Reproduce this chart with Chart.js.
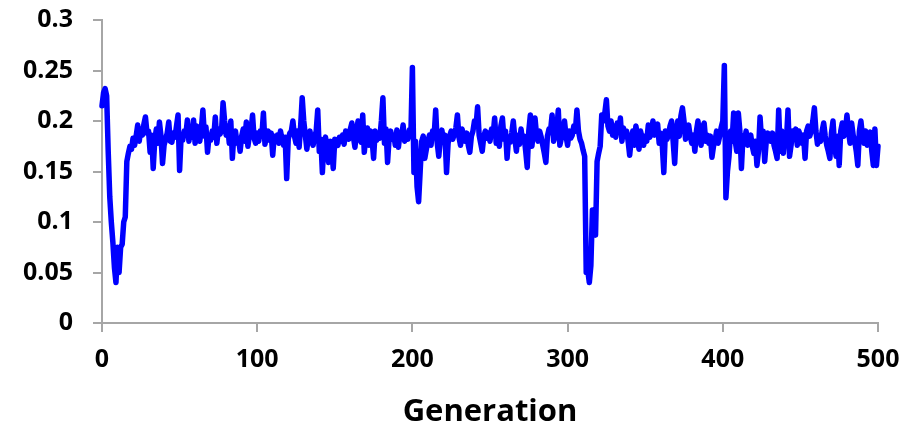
<!DOCTYPE html>
<html lang="en">
<head>
    <meta charset="UTF-8">
    <title>Generation chart</title>
    <script src="https://cdn.jsdelivr.net/npm/chart.js@4.4.1/dist/chart.umd.min.js"></script>
    <style>
        html, body { margin: 0; padding: 0; background: #fff; }
        #wrap { width: 918px; height: 428px; }
    </style>
</head>
<body>
    <div id="wrap"><canvas id="chart" width="918" height="428"></canvas></div>

    <script>
        // value per generation, 0..500
        const fitness = [
            0.215, 0.228, 0.232, 0.225, 0.17, 0.125, 0.1, 0.08, 0.055, 0.04,
            0.075, 0.05, 0.075, 0.078, 0.1, 0.105, 0.16, 0.168, 0.175, 0.172,
            0.183, 0.176, 0.185, 0.196, 0.18, 0.192, 0.186, 0.197, 0.204, 0.188,
            0.19, 0.169, 0.186, 0.153, 0.181, 0.192, 0.178, 0.199, 0.185, 0.158,
            0.176, 0.182, 0.188, 0.199, 0.18, 0.179, 0.188, 0.184, 0.195, 0.206,
            0.151, 0.185, 0.181, 0.19, 0.186, 0.201, 0.18, 0.192, 0.184, 0.201,
            0.178, 0.195, 0.187, 0.18, 0.192, 0.211, 0.185, 0.194, 0.169, 0.186,
            0.181, 0.19, 0.184, 0.204, 0.178, 0.192, 0.187, 0.19, 0.218, 0.2,
            0.186, 0.195, 0.178, 0.2, 0.163, 0.188, 0.19, 0.178, 0.182, 0.17,
            0.185, 0.192, 0.18, 0.199, 0.175, 0.186, 0.19, 0.206, 0.183, 0.178,
            0.188, 0.18, 0.19, 0.185, 0.208, 0.177, 0.186, 0.19, 0.181, 0.188,
            0.166, 0.185, 0.18, 0.186, 0.178, 0.19, 0.182, 0.176, 0.184, 0.143,
            0.182, 0.188, 0.19, 0.2, 0.185, 0.178, 0.19, 0.174, 0.195, 0.223,
            0.2, 0.186, 0.172, 0.185, 0.19, 0.18, 0.176, 0.184, 0.19, 0.211,
            0.17, 0.182, 0.149, 0.178, 0.184, 0.176, 0.159, 0.18, 0.175, 0.153,
            0.182, 0.178, 0.176, 0.184, 0.18, 0.186, 0.177, 0.19, 0.187, 0.182,
            0.192, 0.198, 0.184, 0.174, 0.19, 0.2, 0.182, 0.179, 0.206, 0.169,
            0.185, 0.193, 0.176, 0.19, 0.182, 0.163, 0.19, 0.181, 0.188, 0.183,
            0.2, 0.223, 0.178, 0.192, 0.159, 0.183, 0.19, 0.182, 0.186, 0.176,
            0.191, 0.174, 0.188, 0.184, 0.196, 0.18, 0.187, 0.182, 0.191, 0.185,
            0.253, 0.149, 0.18, 0.135, 0.12, 0.15, 0.18, 0.185, 0.163, 0.172,
            0.18, 0.186, 0.176, 0.19, 0.185, 0.211, 0.178, 0.165, 0.182, 0.191,
            0.18, 0.186, 0.149, 0.178, 0.185, 0.19, 0.182, 0.187, 0.193, 0.206,
            0.184, 0.176, 0.192, 0.185, 0.18, 0.188, 0.176, 0.169, 0.185, 0.19,
            0.2, 0.195, 0.214, 0.186, 0.178, 0.17, 0.185, 0.19, 0.183, 0.188,
            0.18, 0.192, 0.186, 0.203, 0.178, 0.183, 0.175, 0.195, 0.203, 0.182,
            0.19, 0.163, 0.184, 0.179, 0.188, 0.2, 0.183, 0.17, 0.186, 0.177,
            0.192, 0.18, 0.185, 0.17, 0.154, 0.19, 0.206, 0.175, 0.19, 0.203,
            0.186, 0.18, 0.19, 0.184, 0.176, 0.168, 0.159, 0.185, 0.192, 0.19,
            0.206, 0.18, 0.185, 0.19, 0.211, 0.176, 0.183, 0.19, 0.2, 0.185,
            0.176, 0.19, 0.183, 0.186, 0.195, 0.19, 0.211, 0.19, 0.182, 0.178,
            0.171, 0.165, 0.05, 0.052, 0.04, 0.057, 0.112, 0.1, 0.087, 0.16,
            0.168, 0.175, 0.206, 0.2, 0.208, 0.221, 0.195, 0.19, 0.2, 0.186,
            0.195, 0.184, 0.198, 0.19, 0.203, 0.18, 0.193, 0.185, 0.19, 0.18,
            0.166, 0.182, 0.19, 0.176, 0.195, 0.186, 0.172, 0.19, 0.183, 0.176,
            0.185, 0.18, 0.196, 0.184, 0.19, 0.2, 0.186, 0.192, 0.197, 0.178,
            0.188, 0.176, 0.149, 0.19, 0.182, 0.186, 0.195, 0.2, 0.18, 0.158,
            0.19, 0.2, 0.185, 0.205, 0.213, 0.2, 0.182, 0.19, 0.196, 0.185,
            0.178, 0.186, 0.17, 0.19, 0.2, 0.185, 0.176, 0.194, 0.198, 0.18,
            0.186, 0.178, 0.185, 0.164, 0.175, 0.18, 0.19, 0.178, 0.185, 0.194,
            0.2, 0.255, 0.124, 0.15, 0.165, 0.19, 0.18, 0.208, 0.18, 0.17,
            0.208, 0.19, 0.153, 0.185, 0.18, 0.19, 0.176, 0.184, 0.186, 0.175,
            0.168, 0.18, 0.156, 0.17, 0.204, 0.18, 0.19, 0.16, 0.18, 0.188,
            0.184, 0.18, 0.188, 0.176, 0.17, 0.163, 0.211, 0.17, 0.19, 0.168,
            0.186, 0.18, 0.211, 0.165, 0.176, 0.19, 0.185, 0.192, 0.176, 0.19,
            0.185, 0.178, 0.186, 0.163, 0.19, 0.195, 0.185, 0.19, 0.2, 0.213,
            0.19, 0.177, 0.182, 0.18, 0.19, 0.198, 0.185, 0.176, 0.17, 0.163,
            0.188, 0.2, 0.176, 0.165, 0.185, 0.156, 0.19, 0.198, 0.185, 0.19,
            0.206, 0.19, 0.178, 0.198, 0.186, 0.18, 0.17, 0.156, 0.19, 0.2,
            0.185, 0.178, 0.19, 0.176, 0.184, 0.189, 0.17, 0.156, 0.192, 0.156,
            0.175
        ];

        const xTicks = [0, 100, 200, 300, 400, 500];
        const yTickLabels = ['0', '0.05', '0.1', '0.15', '0.2', '0.25', '0.3'];

        const axisGrey = '#a6a6a6';
        const tickFont = { family: '"Open Sans", Arial, sans-serif', size: 25, weight: 'bold' };

        const ctx = document.getElementById('chart').getContext('2d');
        new Chart(ctx, {
            type: 'line',
            data: {
                datasets: [{
                    data: fitness.map((v, i) => ({ x: i, y: v })),
                    borderColor: '#0000ff',
                    borderWidth: 5.5,
                    borderJoinStyle: 'round',
                    borderCapStyle: 'round',
                    pointRadius: 0,
                    tension: 0,
                    clip: false
                }]
            },
            options: {
                responsive: false,
                animation: false,
                layout: { padding: { top: 20, right: 40, bottom: 0, left: 0 } },
                plugins: { legend: { display: false }, tooltip: { enabled: false } },
                scales: {
                    x: {
                        type: 'linear',
                        min: 0,
                        max: 500,
                        afterBuildTicks: s => { s.ticks = xTicks.map(v => ({ value: v })); },
                        afterFit: s => { s.height = 105; },
                        grid: { drawOnChartArea: false, drawTicks: true, tickLength: 9, color: axisGrey, lineWidth: 2 },
                        border: { color: axisGrey, width: 2 },
                        ticks: { color: '#000', font: tickFont, padding: 13, maxRotation: 0 },
                        title: {
                            display: true,
                            text: 'Generation',
                            color: '#000',
                            font: { family: '"Open Sans", Arial, sans-serif', size: 31, weight: 'bold' },
                            padding: { top: 0, bottom: -3 }
                        }
                    },
                    y: {
                        min: 0,
                        max: 0.3,
                        ticks: {
                            stepSize: 0.05,
                            color: '#000',
                            font: tickFont,
                            padding: 20,
                            callback: (v, i) => yTickLabels[i]
                        },
                        afterFit: s => { s.width = 102; s.paddingTop = 0; s.paddingBottom = 0; },
                        grid: { drawOnChartArea: false, drawTicks: true, tickLength: 9, color: axisGrey, lineWidth: 2 },
                        border: { color: axisGrey, width: 2 }
                    }
                }
            }
        });
    </script>
</body>
</html>
